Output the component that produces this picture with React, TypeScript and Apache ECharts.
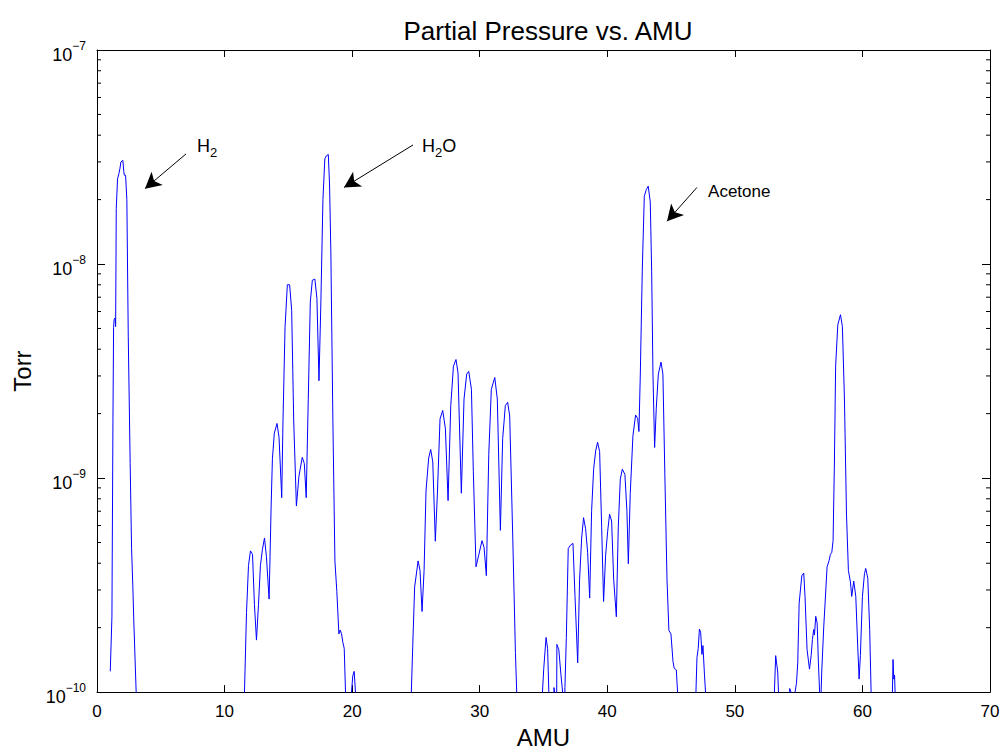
import React, { useEffect, useRef } from "react";
import * as echarts from "echarts";

// AMU positions
const amu: number[] = [
  1.04, 1.17, 1.25, 1.30, 1.34, 1.42, 1.46, 1.51, 1.61, 1.72, 1.80, 1.875, 2.03, 2.10, 2.14, 2.24, 2.34, 2.45, 2.60, 2.71, 2.81, 2.89, 3.07, 3.15,
  11.5, 11.56, 11.72, 11.875, 12.03, 12.19, 12.34, 12.5, 12.66, 12.81, 12.97, 13.13, 13.28, 13.49, 13.65, 13.75, 13.9, 14.11, 14.27, 14.48, 14.58, 14.74, 14.92, 15.1, 15.26, 15.42, 15.63, 15.83, 16.09, 16.25, 16.4, 16.56, 16.72, 16.88, 17.08, 17.24, 17.4, 17.55, 17.71, 17.86, 17.97, 18.13, 18.23, 18.33, 18.49, 18.65, 18.8, 18.96, 19.06, 19.17, 19.27, 19.38, 19.48, 19.55,
  19.9, 19.95, 20.05, 20.16, 20.26, 20.3,
  24.6, 24.64, 24.75, 24.9, 25.17, 25.32, 25.48, 25.64, 25.79, 26.0, 26.16, 26.32, 26.52, 26.68, 26.89, 27.1, 27.31, 27.52, 27.73, 27.94, 28.14, 28.3, 28.56, 28.77, 28.98, 29.14, 29.35, 29.5, 29.71, 29.92, 30.18, 30.34, 30.52, 30.71, 30.91, 31.18, 31.38, 31.62, 31.8, 32.01, 32.19, 32.35, 32.59, 32.8, 32.9, 32.95,
  34.85, 34.92, 35.02, 35.2, 35.32, 35.42, 35.46, 35.78, 35.82, 35.88, 35.92, 36.0, 36.05, 36.2, 36.37, 36.5, 36.55, 36.62, 36.68, 36.79, 36.94, 37.13, 37.31, 37.47, 37.68, 37.83, 37.99, 38.14, 38.3, 38.46, 38.62, 38.77, 38.93, 39.09, 39.24, 39.4, 39.56, 39.71, 39.87, 40.03, 40.18, 40.34, 40.5, 40.71, 40.86, 41.02, 41.18, 41.38, 41.54, 41.65, 41.8, 42.01, 42.22, 42.38, 42.48, 42.59, 42.74, 42.9, 43.06, 43.21, 43.37, 43.48, 43.58, 43.71, 43.84, 44.0, 44.21, 44.36, 44.52, 44.68, 44.83, 44.99, 45.15, 45.25, 45.41, 45.51, 45.55,
  46.9, 46.95, 47.03, 47.13, 47.22, 47.32, 47.42, 47.5, 47.62, 47.7, 47.75,
  53.05, 53.1, 53.2, 53.36, 53.42, 53.46, 54.25, 54.3, 54.4, 54.45,
  54.7, 54.72, 54.83, 54.93, 55.04, 55.14, 55.25, 55.4, 55.5, 55.66, 55.85, 55.98, 56.08, 56.18, 56.24, 56.34, 56.45, 56.55, 56.71, 56.81, 56.97, 57.13, 57.23, 57.39, 57.49, 57.6, 57.7, 57.8, 57.9, 58.07, 58.28, 58.43, 58.59, 58.75, 58.9, 59.06, 59.16, 59.32, 59.48, 59.63, 59.74, 59.84, 60.0, 60.16, 60.26, 60.42, 60.57, 60.68, 60.72,
  62.3, 62.35, 62.4, 62.46, 62.52, 62.56, 62.6,
];

// Partial pressure (Torr) at each AMU position
const torr: number[] = [
  1.25e-10, 2.25e-10, 1.85e-9, 5.06e-9, 5.5e-9, 5.6e-9, 5.1e-9, 1.82e-8, 2.5e-8, 2.65e-8, 2.8e-8, 3.0e-8, 3.05e-8, 2.7e-8, 2.6e-8, 2.6e-8, 2.0e-8, 4.6e-9, 1.17e-9, 4.7e-10, 3.1e-10, 2.1e-10, 1.0e-10, 3e-11,
  3e-11, 1.0e-10, 2.35e-10, 3.9e-10, 4.57e-10, 4.4e-10, 2.57e-10, 1.75e-10, 2.57e-10, 3.9e-10, 4.65e-10, 5.25e-10, 4.3e-10, 2.72e-10, 7.4e-10, 1.23e-9, 1.62e-9, 1.8e-9, 1.55e-9, 8.1e-10, 1.85e-9, 5.06e-9, 8.0e-9, 8.0e-9, 6.07e-9, 1.85e-9, 7.4e-10, 1.02e-9, 1.25e-9, 1.17e-9, 8.1e-10, 2.32e-9, 6.65e-9, 8.4e-9, 8.5e-9, 6.9e-9, 2.85e-9, 6.65e-9, 2.0e-8, 3.1e-8, 3.2e-8, 3.25e-8, 2.34e-8, 1.15e-8, 1.85e-9, 4.1e-10, 2.95e-10, 1.87e-10, 1.95e-10, 1.87e-10, 1.71e-10, 1.6e-10, 1.0e-10, 3e-11,
  3e-11, 1.0e-10, 1.19e-10, 1.25e-10, 1.0e-10, 3e-11,
  3e-11, 1.0e-10, 1.64e-10, 3.1e-10, 4.1e-10, 3.7e-10, 2.38e-10, 3.7e-10, 8.7e-10, 1.24e-9, 1.36e-9, 1.19e-9, 5.07e-10, 8.4e-10, 1.89e-9, 2.07e-9, 1.7e-9, 7.85e-10, 2.18e-9, 3.33e-9, 3.58e-9, 3.1e-9, 8.5e-10, 2.34e-9, 3.06e-9, 3.15e-9, 2.6e-9, 1.07e-9, 3.85e-10, 4.36e-10, 5.1e-10, 4.75e-10, 3.5e-10, 1.29e-9, 2.6e-9, 2.95e-9, 2.34e-9, 5.7e-10, 1.53e-9, 2.18e-9, 2.26e-9, 1.95e-9, 5.3e-10, 1.53e-10, 1.0e-10, 3e-11,
  3e-11, 1.0e-10, 1.29e-10, 1.8e-10, 1.6e-10, 1.0e-10, 3e-11, 3e-11, 1.05e-10, 1.0e-10, 3e-11, 3e-11, 1.67e-10, 1.58e-10, 1.2e-10, 1.0e-10, 3e-11, 3e-11, 1.05e-10, 1.8e-10, 4.69e-10, 4.87e-10, 4.95e-10, 2.8e-10, 1.37e-10, 3.37e-10, 5.24e-10, 6.53e-10, 5.8e-10, 4.5e-10, 2.75e-10, 7.0e-10, 1.1e-9, 1.34e-9, 1.47e-9, 1.33e-9, 5.85e-10, 2.65e-10, 4.36e-10, 5.64e-10, 6.78e-10, 6.3e-10, 3.37e-10, 2.25e-10, 5.85e-10, 9.9e-10, 1.1e-9, 1.04e-9, 7.0e-10, 3.98e-10, 8.45e-10, 1.58e-9, 1.97e-9, 1.9e-9, 1.65e-9, 3.06e-9, 9.2e-9, 2.07e-8, 2.23e-8, 2.31e-8, 1.95e-8, 9.2e-9, 3.06e-9, 1.39e-9, 2.12e-9, 3.06e-9, 3.48e-9, 3.06e-9, 9.9e-10, 3.37e-10, 1.94e-10, 1.87e-10, 1.39e-10, 1.29e-10, 1.27e-10, 1.0e-10, 3e-11,
  3e-11, 1.0e-10, 1.45e-10, 1.6e-10, 1.97e-10, 1.9e-10, 1.5e-10, 1.65e-10, 1.2e-10, 1.0e-10, 3e-11,
  3e-11, 1.0e-10, 1.48e-10, 1.24e-10, 1.0e-10, 3e-11, 3e-11, 1.04e-10, 1.0e-10, 3e-11,
  3e-11, 1.0e-10, 1.1e-10, 1.37e-10, 2.6e-10, 3.0e-10, 3.5e-10, 3.6e-10, 2.8e-10, 1.58e-10, 1.28e-10, 1.48e-10, 1.76e-10, 1.96e-10, 1.85e-10, 2.26e-10, 2.1e-10, 1.37e-10, 8e-11, 1.24e-10, 2.03e-10, 3.0e-10, 3.85e-10, 4.12e-10, 4.4e-10, 4.5e-10, 5.1e-10, 1.15e-9, 3.33e-9, 5.2e-9, 5.8e-9, 5.1e-9, 2.34e-9, 6.8e-10, 3.7e-10, 3.27e-10, 2.8e-10, 3.3e-10, 2.8e-10, 1.64e-10, 1.15e-10, 1.48e-10, 2.8e-10, 3.58e-10, 3.78e-10, 3.4e-10, 1.96e-10, 1.0e-10, 3e-11,
  3e-11, 1.0e-10, 1.42e-10, 1.15e-10, 1.2e-10, 1.0e-10, 3e-11,
];

// Minor log ticks (mantissas within each decade)
const minorDecades: number[] = [1e-10, 1e-9, 1e-8];
const minorMantissas: number[] = [2, 3, 4, 5, 6, 7, 8, 9];

// Annotations
const annLabels: string[] = ["{n|H}{sub|2}", "{n|H}{sub|2}{n|O}", "{a|Acetone}"];
const annTextPos: number[][] = [[7.84, 3.56e-8], [25.48, 3.56e-8], [47.9, 2.18e-8]];
const annFrom: number[][] = [[6.98, 3.27e-8], [24.77, 3.6e-8], [47.03, 2.28e-8]];
const annTo: number[][] = [[3.76, 2.25e-8], [19.36, 2.28e-8], [44.68, 1.585e-8]];

const FONT = "Liberation Sans";

export default function App() {
  const ref = useRef<HTMLDivElement>(null);
  useEffect(() => {
    document.body.style.margin = "0";
    if (!ref.current) return;
    const chart = echarts.init(ref.current, undefined, { renderer: "svg" });
    const lineData = amu.map((x, i) => [x, torr[i]]);
    const minorData: number[][] = [];
    minorDecades.forEach((d) => minorMantissas.forEach((m) => minorData.push([0, d * m])));

    const supLabel = (v: number) => {
      const e = Math.round(Math.log10(v));
      return `{b|10}{s|${e < 0 ? "\u2212" : ""}${Math.abs(e)}}`;
    };

    const frameAxis = {
      axisLine: { show: true, onZero: false, lineStyle: { color: "#000", width: 1 } },
      splitLine: { show: false },
    };

    chart.setOption({
      animation: false,
      backgroundColor: "#ffffff",
      textStyle: { fontFamily: FONT },
      title: {
        text: "Partial Pressure vs. AMU",
        left: 543,
        textAlign: "center",
        top: 13,
        textStyle: { fontFamily: FONT, fontSize: 26, fontWeight: "normal", color: "#000" },
      },
      grid: { left: 97, top: 50, right: 16, bottom: 55, show: false },
      xAxis: [
        {
          type: "value",
          min: 0,
          max: 70,
          interval: 10,
          name: "AMU",
          nameLocation: "middle",
          nameGap: 31,
          nameTextStyle: { fontFamily: FONT, fontSize: 24, color: "#000" },
          ...frameAxis,
          axisTick: { show: true, inside: true, length: 7, lineStyle: { color: "#000" } },
          axisLabel: { fontFamily: FONT, fontSize: 17, color: "#000", margin: 11 },
        },
        {
          type: "value",
          position: "top",
          min: 0,
          max: 70,
          interval: 10,
          ...frameAxis,
          axisTick: { show: true, inside: true, length: 7, lineStyle: { color: "#000" } },
          axisLabel: { show: false },
        },
      ],
      yAxis: [
        {
          type: "log",
          logBase: 10,
          min: 1e-10,
          max: 1e-7,
          name: "Torr",
          nameLocation: "middle",
          nameGap: 48,
          nameRotate: 90,
          nameTextStyle: { fontFamily: FONT, fontSize: 24, color: "#000" },
          ...frameAxis,
          axisTick: { show: true, inside: true, length: 8, lineStyle: { color: "#000" } },
          axisLabel: {
            margin: 11,
            formatter: supLabel,
            rich: {
              b: { fontFamily: FONT, fontSize: 18, color: "#000", padding: [10, 0, 0, 0] },
              s: { fontFamily: FONT, fontSize: 12, color: "#000", padding: [0, 0, 8, 0] },
            },
          },
        },
        {
          type: "log",
          logBase: 10,
          min: 1e-10,
          max: 1e-7,
          position: "right",
          ...frameAxis,
          axisTick: { show: true, inside: true, length: 8, lineStyle: { color: "#000" } },
          axisLabel: { show: false },
        },
      ],
      series: [
        {
          type: "line",
          name: "Partial pressure",
          data: lineData,
          showSymbol: false,
          symbol: "none",
          clip: true,
          lineStyle: { color: "#0000ff", width: 1 },
          itemStyle: { color: "#0000ff" },
          markLine: {
            silent: true,
            symbol: ["none", "arrow"],
            symbolSize: [13, 16],
            lineStyle: { color: "#000", width: 1, type: "solid" },
            label: { show: false },
            data: annFrom.map((f, i) => [{ coord: f }, { coord: annTo[i] }]),
          },
          markPoint: {
            silent: true,
            symbol: "circle",
            symbolSize: 0,
            data: annTextPos.map((p, i) => ({
              coord: p,
              label: {
                show: true,
                position: "right",
                distance: 0,
                formatter: annLabels[i],
                rich: {
                  n: { fontFamily: FONT, fontSize: 18, color: "#000" },
                  sub: { fontFamily: FONT, fontSize: 13, color: "#000", padding: [12, 0, 0, 0] },
                  a: { fontFamily: FONT, fontSize: 17, color: "#000" },
                },
              },
            })),
          },
        },
        {
          type: "custom",
          name: "minorTicks",
          silent: true,
          clip: false,
          data: minorData,
          renderItem: (params: any, api: any) => {
            const v = api.value(1);
            const pl = api.coord([0, v]);
            const pr = api.coord([70, v]);
            return {
              type: "group",
              children: [
                { type: "line", shape: { x1: pl[0], y1: pl[1], x2: pl[0] + 4, y2: pl[1] }, style: { stroke: "#000", lineWidth: 1 } },
                { type: "line", shape: { x1: pr[0] - 4, y1: pr[1], x2: pr[0], y2: pr[1] }, style: { stroke: "#000", lineWidth: 1 } },
              ],
            };
          },
        },
      ],
    });
    return () => chart.dispose();
  }, []);
  return <div ref={ref} style={{ width: 1006, height: 754 }} />;
}
